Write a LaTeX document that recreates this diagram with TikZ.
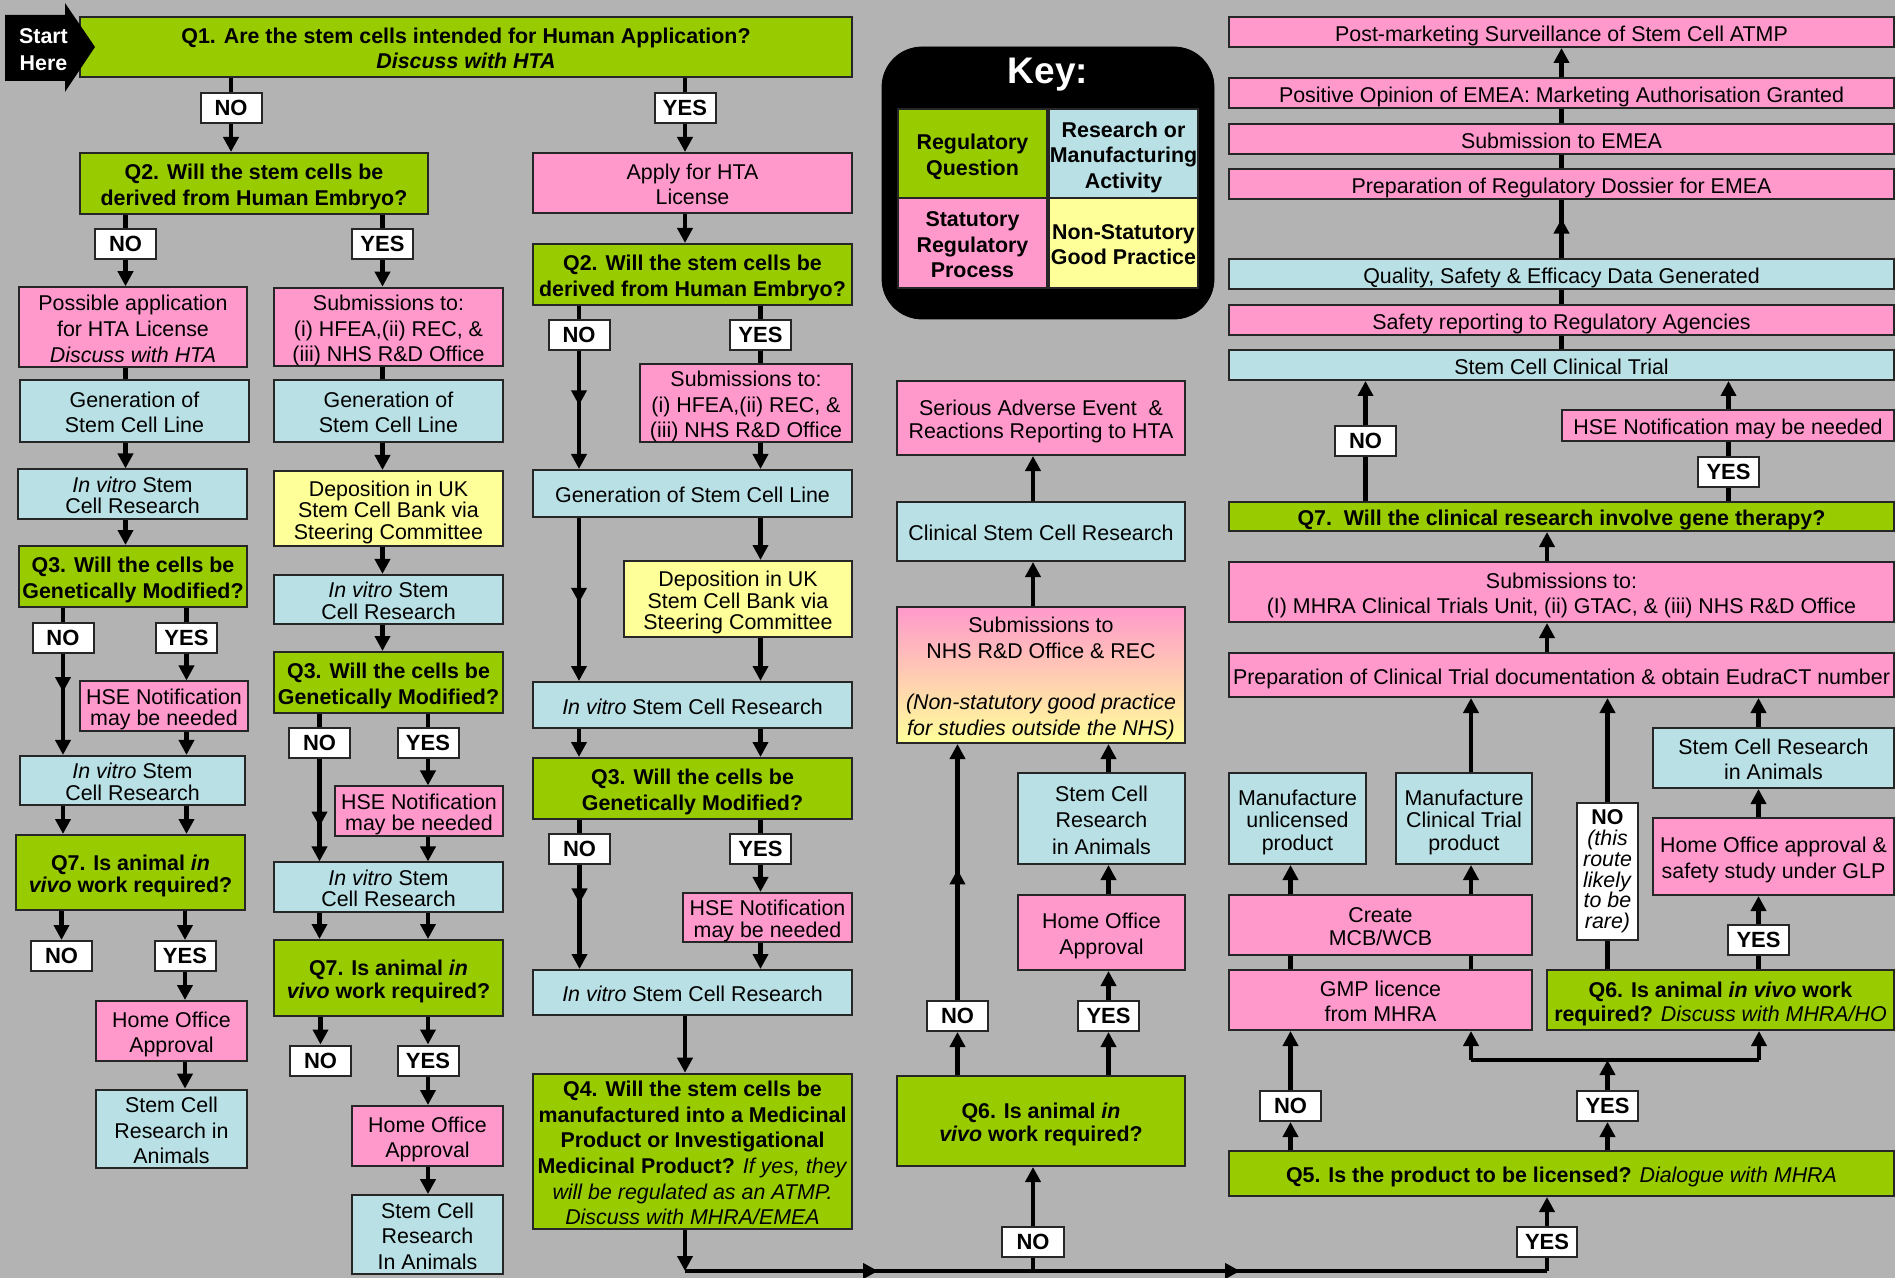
\documentclass[tikz,border=0pt]{standalone}
\usepackage{fontspec}
\setmainfont{Liberation Sans}
\usetikzlibrary{arrows.meta,decorations.markings}

\definecolor{bggray}{RGB}{179,179,179}
\definecolor{qgreen}{RGB}{153,204,0}
\definecolor{spink}{RGB}{255,153,204}
\definecolor{rblue}{RGB}{185,224,228}
\definecolor{nyellow}{RGB}{255,255,153}

\newcommand{\bxfont}{\fontsize{10.7}{12.8}\selectfont}
\newcommand{\tgfont}{\fontsize{10.7}{10.8}\selectfont}
\newcommand{\mdfont}{\fontsize{10.7}{11.2}\selectfont}
\newcommand{\bxtop}{\rule{0pt}{11.46pt}}
\newcommand{\bxbot}{\rule[-2.3pt]{0pt}{2.3pt}}
% strut for the first line of a box with several lines
\newcommand{\ts}{\rule{0pt}{11.46pt}}

\tikzset{
	>={Triangle[width=7.5pt,length=7.5pt]},
	box/.style={draw=black!85, line width=1pt, inner sep=0pt, align=center, text=black, font=\bxfont,
		execute at begin node=\bxtop, execute at end node=\bxbot},
	nostrut/.code={\def\bxtop{}\def\bxbot{}},
	sz/.style 2 args={minimum width=#1*0.5pt, minimum height=#2*0.5pt},
	qbox/.style={box, fill=qgreen, font=\bxfont\bfseries},
	pbox/.style={box, fill=spink},
	bbox/.style={box, fill=rblue},
	ybox/.style={box, fill=nyellow},
	lbl/.style={box, fill=white, font=\fontsize{11}{12}\selectfont\bfseries, sz={61}{30}, nostrut},
	ln/.style={line width=2.2pt},
	arr/.style={->, line width=2.2pt},
	midarr/.style={postaction={decorate}, decoration={markings, mark=at position #1 with {\arrow{>}}}},
}

\begin{document}
\begin{tikzpicture}[x=0.5pt, y=-0.5pt]
		\useasboundingbox (0,0) rectangle (1895,1278);
		\fill[bggray] (0,0) rectangle (1895,1278);
		
		% Q1
		\node[qbox, sz={772}{60}] (q1) at (466,47) {\ts Q1. Are the stem cells intended for Human Application?\\\textit{Discuss with HTA}};
		\node[lbl] (no1) at (231,108) {NO};
		\node[lbl] (yes1) at (685,108) {YES};
		
		% Start arrow
		\fill[black] (5,15) -- (65,15) -- (65,3) -- (95,47) -- (65,92) -- (65,81) -- (5,81) -- cycle;
		\node[text=white, align=center, inner sep=0pt, font=\fontsize{10.7}{13.5}\selectfont\bfseries] (start) at (43.5,50) {Start\\Here};
		
		% Left column (not human application)
		\node[qbox, sz={348}{61}] (q2a) at (254,183.5) {\ts Q2. Will the stem cells be\\derived from Human Embryo?};
		\node[lbl] (no2a) at (125.5,244) {NO};
		\node[lbl] (yes2a) at (382.5,244) {YES};
		\node[pbox, sz={228}{76}, font=\fontsize{10.7}{13}\selectfont] (poss) at (133,327) {\ts Possible application\\for HTA License\\\textit{Discuss with HTA}};
		\node[pbox, sz={229}{76}] (sub2) at (388.5,327) {\ts Submissions to:\\(i) HFEA,(ii) REC, \&\\(iii) NHS R\&D Office};
		\node[bbox, sz={229}{62}] (gen1) at (134.5,411) {\ts Generation of\\Stem Cell Line};
		\node[bbox, sz={229}{62}] (gen2) at (388.5,411) {\ts Generation of\\Stem Cell Line};
		\node[bbox, sz={229}{46}, font=\tgfont] (iv1a) at (132.5,494) {\ts\textit{In vitro} Stem\\Cell Research};
		\node[qbox, sz={228}{61}] (q3a) at (133,576.5) {\ts Q3. Will the cells be\\Genetically Modified?};
		\node[lbl] (no3a) at (63,637.5) {NO};
		\node[lbl] (yes3a) at (186.5,637.5) {YES};
		\node[pbox, sz={168}{46}, font=\tgfont] (hse1) at (164,706) {\ts HSE Notification\\may be needed};
		\node[bbox, sz={225}{47}, font=\tgfont] (iv1b) at (132.5,780.5) {\ts\textit{In vitro} Stem\\Cell Research};
		\node[qbox, sz={229}{75}, font=\tgfont\bfseries] (q7a) at (130.5,872.5) {\ts Q7. Is animal \textit{in}\\\textit{vivo} work required?};
		\node[lbl] (no7a) at (61.5,956) {NO};
		\node[lbl] (yes7a) at (185,956) {YES};
		\node[pbox, sz={151}{60}] (ho1) at (171.5,1031) {\ts Home Office\\Approval};
		\node[bbox, sz={151}{76}] (scra1) at (171.5,1129) {\ts Stem Cell\\Research in\\Animals};
		
		\node[ybox, sz={229}{75}, font=\tgfont] (dep2) at (388.5,508.5) {\ts Deposition in UK\\Stem Cell Bank via\\Steering Committee};
		\node[bbox, sz={229}{45}, font=\tgfont] (iv2a) at (388.5,599.5) {\ts\textit{In vitro} Stem\\Cell Research};
		\node[qbox, sz={229}{61}] (q3b) at (388.5,682.5) {\ts Q3. Will the cells be\\Genetically Modified?};
		\node[lbl] (no3b) at (319.5,743) {NO};
		\node[lbl] (yes3b) at (428,743) {YES};
		\node[pbox, sz={168}{46}, font=\tgfont] (hse2) at (419,811) {\ts HSE Notification\\may be needed};
		\node[bbox, sz={229}{46}, font=\tgfont] (iv2b) at (388.5,887) {\ts\textit{In vitro} Stem\\Cell Research};
		\node[qbox, sz={229}{76}, font=\mdfont\bfseries] (q7b) at (388.5,978) {\ts Q7. Is animal \textit{in}\\\textit{vivo} work required?};
		\node[lbl] (no7b) at (320.5,1060.5) {NO};
		\node[lbl] (yes7b) at (428,1060.5) {YES};
		\node[pbox, sz={151}{60}] (ho2) at (427.5,1136) {\ts Home Office\\Approval};
		\node[bbox, sz={151}{77}] (scra2) at (427.5,1234.5) {\ts Stem Cell\\Research\\In Animals};
		
		% Middle column (human application)
		\node[pbox, sz={319}{60}] (apply) at (692.5,183) {\ts Apply for HTA\\License};
		\node[qbox, sz={319}{61}] (q2b) at (692.5,274.5) {\ts Q2. Will the stem cells be\\derived from Human Embryo?};
		\node[lbl] (no2b) at (579,335) {NO};
		\node[lbl] (yes2b) at (760.5,335) {YES};
		\node[pbox, sz={212}{76}] (sub3) at (746,403) {\ts Submissions to:\\(i) HFEA,(ii) REC, \&\\(iii) NHS R\&D Office};
		\node[bbox, sz={319}{47}] (gen3) at (692.5,493.5) {Generation of Stem Cell Line};
		\node[ybox, sz={228}{76}, font=\tgfont] (dep3) at (738,599) {\ts Deposition in UK\\Stem Cell Bank via\\Steering Committee};
		\node[bbox, sz={319}{46}] (iv3a) at (692.5,705) {\textit{In vitro} Stem Cell Research};
		\node[qbox, sz={319}{61}] (q3c) at (692.5,788.5) {\ts Q3. Will the cells be\\Genetically Modified?};
		\node[lbl] (no3c) at (579.5,849) {NO};
		\node[lbl] (yes3c) at (760.5,849) {YES};
		\node[pbox, sz={169}{45}, font=\tgfont] (hse3) at (767.5,917.5) {\ts HSE Notification\\may be needed};
		\node[bbox, sz={319}{45}] (iv3b) at (692.5,992.5) {\textit{In vitro} Stem Cell Research};
		\node[qbox, sz={319}{151}, font=\fontsize{10.7}{12.8}\selectfont] (q4) at (692.5,1151.5) {\ts\textbf{Q4. Will the stem cells be}\\\textbf{manufactured into a Medicinal}\\\textbf{Product or Investigational}\\\textbf{Medicinal Product?} \textit{If yes, they}\\\textit{will be regulated as an ATMP.}\\\textit{Discuss with MHRA/EMEA}};
		
		% Key
		\draw[fill=black, rounded corners=20pt] (882,47) rectangle (1214,319);
		\node[text=white, inner sep=0pt, font=\fontsize{18.5}{20}\selectfont\bfseries] (keyt) at (1048,75) {Key:};
		\node[qbox, sz={149}{89}] (kq) at (972.5,153.5) {\ts Regulatory\\Question};
		\node[bbox, sz={149}{89}, font=\bxfont\bfseries] (ka) at (1123.5,153.5) {\ts Research or\\Manufacturing\\Activity};
		\node[pbox, sz={149}{90}, font=\bxfont\bfseries] (kp) at (972.5,243) {\ts Statutory\\Regulatory\\Process};
		\node[ybox, sz={149}{90}, font=\bxfont\bfseries] (kg) at (1123.5,243) {\ts Non-Statutory\\Good Practice};
		
		% Clinical research column
		\node[pbox, sz={288}{74}, font=\mdfont] (sae) at (1041,418) {\ts Serious Adverse Event \ \&\\Reactions Reporting to HTA};
		\node[bbox, sz={288}{59}] (clin) at (1041,531.5) {Clinical Stem Cell Research};
		\node[box, sz={288}{136}, top color=spink, bottom color=nyellow] (subnhs) at (1041,675) {\ts Submissions to\\NHS R\&D Office \& REC\\[12.8pt]\textit{(Non-statutory good practice}\\\textit{for studies outside the NHS)}};
		\node[bbox, sz={167}{91}, font=\fontsize{10.7}{13.3}\selectfont] (scra4) at (1101.5,818.5) {\ts Stem Cell\\Research\\in Animals};
		\node[pbox, sz={167}{75}] (ho4) at (1101.5,932.5) {\ts Home Office\\Approval};
		\node[lbl] (no6a) at (957.5,1016) {NO};
		\node[lbl] (yes6a) at (1108.5,1016) {YES};
		\node[qbox, sz={288}{90}, font=\fontsize{10.7}{11.6}\selectfont\bfseries] (q6a) at (1041,1121) {\ts Q6. Is animal \textit{in}\\\textit{vivo} work required?};
		\node[lbl, sz={62}{30}] (noB) at (1033,1242) {NO};
		
		% Licensing column
		\node[pbox, sz={665}{30}] (post) at (1561.5,32) {Post-marketing Surveillance of Stem Cell ATMP};
		\node[pbox, sz={665}{30}] (pos) at (1561.5,93) {Positive Opinion of EMEA: Marketing Authorisation Granted};
		\node[pbox, sz={665}{30}] (sube) at (1561.5,139) {Submission to EMEA};
		\node[pbox, sz={665}{30}] (dossier) at (1561.5,184) {Preparation of Regulatory Dossier for EMEA};
		\node[bbox, sz={665}{30}] (quality) at (1561.5,274) {Quality, Safety \& Efficacy Data Generated};
		\node[pbox, sz={665}{30}] (safety) at (1561.5,320) {Safety reporting to Regulatory Agencies};
		\node[bbox, sz={665}{30}] (trial) at (1561.5,365) {Stem Cell Clinical Trial};
		\node[lbl] (no7c) at (1365.5,441) {NO};
		\node[pbox, sz={332}{31}] (hse5) at (1728,425.5) {HSE Notification may be needed};
		\node[lbl] (yes7c) at (1728.5,472) {YES};
		\node[qbox, sz={665}{29}] (q7c) at (1561.5,516.5) {Q7.\ \ Will the clinical research involve gene therapy?};
		\node[pbox, sz={665}{60}] (sub5) at (1561.5,592) {\ts Submissions to:\\(I) MHRA Clinical Trials Unit, (ii) GTAC, \& (iii) NHS R\&D Office};
		\node[pbox, sz={665}{44}] (prepct) at (1561.5,675) {Preparation of Clinical Trial documentation \& obtain EudraCT number};
		\node[bbox, sz={137}{91}, font=\mdfont] (manu) at (1297.5,818.5) {\ts Manufacture\\unlicensed\\product};
		\node[bbox, sz={136}{91}, font=\mdfont] (manct) at (1464,818.5) {\ts Manufacture\\Clinical Trial\\product};
		\node[lbl, sz={61}{137}, font=\fontsize{10.7}{10.4}\selectfont] (norare) at (1607.5,871.5) {\textbf{NO}\\\textit{(this}\\\textit{route}\\\textit{likely}\\\textit{to be}\\\textit{rare)}};
		\node[bbox, sz={241}{60}] (scra5) at (1773.5,758) {\ts Stem Cell Research\\in Animals};
		\node[pbox, sz={241}{77}] (ho5) at (1773.5,856.5) {\ts Home Office approval \&\\safety study under GLP};
		\node[lbl] (yes6b) at (1758.5,940) {YES};
		\node[qbox, sz={347}{60}, font=\fontsize{10.7}{12}\selectfont] (q6b) at (1720.5,1000) {\ts\textbf{Q6. Is animal \textit{in vivo} work}\\\textbf{required?} \textit{Discuss with MHRA/HO}};
		\node[pbox, sz={303}{60}, font=\mdfont] (create) at (1380.5,925) {\ts Create\\MCB/WCB};
		\node[pbox, sz={303}{60}] (gmp) at (1380.5,1000) {\ts GMP licence\\from MHRA};
		\node[lbl] (no5) at (1290.5,1106) {NO};
		\node[lbl] (yes5) at (1607.5,1106) {YES};
		\node[qbox, sz={665}{45}, font=\bxfont] (q5) at (1561.5,1173.5) {\textbf{Q5. Is the product to be licensed?} \textit{Dialogue with MHRA}};
		\node[lbl, sz={60}{30}] (yesB) at (1547,1242) {YES};
		
		\coordinate (bl) at (685,1271);
		\coordinate (br) at (1547,1271);
		\coordinate (jl) at (1471,1060);
		\coordinate (jr) at (1759,1060);
		
		% Draw Q1 lines
		\draw[ln] (no1 |- q1.south) -- (no1.north);
		\draw[arr] (no1.south) -- (no1 |- q2a.north);
		\draw[ln] (yes1 |- q1.south) -- (yes1.north);
		\draw[arr] (yes1.south) -- (yes1 |- apply.north);
		\draw[arr] (yes1 |- apply.south) -- (yes1 |- q2b.north);
		
		% Draw left column lines
		\draw[ln] (no2a |- q2a.south) -- (no2a.north);
		\draw[arr] (no2a.south) -- (no2a |- poss.north);
		\draw[ln] (yes2a |- q2a.south) -- (yes2a.north);
		\draw[arr] (yes2a.south) -- (yes2a |- sub2.north);
		\draw[ln] (no2a |- poss.south) -- (no2a |- gen1.north);
		\draw[arr] (no2a |- gen1.south) -- (no2a |- iv1a.north);
		\draw[arr] (no2a |- iv1a.south) -- (no2a |- q3a.north);
		\draw[ln] (no3a |- q3a.south) -- (no3a.north);
		\draw[arr, midarr=0.38] (no3a.south) -- (no3a |- iv1b.north);
		\draw[ln] (yes3a |- q3a.south) -- (yes3a.north);
		\draw[arr] (yes3a.south) -- (yes3a |- hse1.north);
		\draw[arr] (yes3a |- hse1.south) -- (yes3a |- iv1b.north);
		\draw[arr] (no3a |- iv1b.south) -- (no3a |- q7a.north);
		\draw[arr] (yes3a |- iv1b.south) -- (yes3a |- q7a.north);
		\draw[arr] (no7a |- q7a.south) -- (no7a.north);
		\draw[arr] (yes7a |- q7a.south) -- (yes7a.north);
		\draw[arr] (yes7a.south) -- (yes7a |- ho1.north);
		\draw[arr] (yes7a |- ho1.south) -- (yes7a |- scra1.north);
		
		\draw[ln] (yes2a |- sub2.south) -- (yes2a |- gen2.north);
		\draw[arr] (yes2a |- gen2.south) -- (yes2a |- dep2.north);
		\draw[arr] (yes2a |- dep2.south) -- (yes2a |- iv2a.north);
		\draw[arr] (yes2a |- iv2a.south) -- (yes2a |- q3b.north);
		\draw[ln] (no3b |- q3b.south) -- (no3b.north);
		\draw[arr, midarr=0.66] (no3b.south) -- (no3b |- iv2b.north);
		\draw[ln] (yes3b |- q3b.south) -- (yes3b.north);
		\draw[arr] (yes3b.south) -- (yes3b |- hse2.north);
		\draw[arr] (yes3b |- hse2.south) -- (yes3b |- iv2b.north);
		\draw[arr] (no3b |- iv2b.south) -- (no3b |- q7b.north);
		\draw[arr] (yes3b |- iv2b.south) -- (yes3b |- q7b.north);
		\draw[arr] (no7b |- q7b.south) -- (no7b.north);
		\draw[arr] (yes7b |- q7b.south) -- (yes7b.north);
		\draw[arr] (yes7b.south) -- (yes7b |- ho2.north);
		\draw[arr] (yes7b |- ho2.south) -- (yes7b |- scra2.north);
		
		% Draw middle column lines
		\draw[ln] (no2b |- q2b.south) -- (no2b.north);
		\draw[arr, midarr=0.46] (no2b.south) -- (no2b |- gen3.north);
		\draw[ln] (yes2b |- q2b.south) -- (yes2b.north);
		\draw[ln] (yes2b.south) -- (yes2b |- sub3.north);
		\draw[arr] (yes2b |- sub3.south) -- (yes2b |- gen3.north);
		\draw[arr, midarr=0.52] (no2b |- gen3.south) -- (no2b |- iv3a.north);
		\draw[arr] (yes2b |- gen3.south) -- (yes2b |- dep3.north);
		\draw[arr] (yes2b |- dep3.south) -- (yes2b |- iv3a.north);
		\draw[arr] (no2b |- iv3a.south) -- (no2b |- q3c.north);
		\draw[arr] (yes2b |- iv3a.south) -- (yes2b |- q3c.north);
		\draw[ln] (no3c |- q3c.south) -- (no3c.north);
		\draw[arr, midarr=0.37] (no3c.south) -- (no3c |- iv3b.north);
		\draw[ln] (yes3c |- q3c.south) -- (yes3c.north);
		\draw[arr] (yes3c.south) -- (yes3c |- hse3.north);
		\draw[arr] (yes3c |- hse3.south) -- (yes3c |- iv3b.north);
		\draw[arr] (bl |- iv3b.south) -- (bl |- q4.north);
		\draw[arr] (bl |- q4.south) -- (bl);
		
		% Draw bottom line
		\draw[ln, postaction={decorate}, decoration={markings, mark=at position 0.224 with {\arrow{>}}, mark=at position 0.644 with {\arrow{>}}}] (bl) -- (br);
		
		% Draw clinical research lines
		\draw[ln] (noB |- bl) -- (noB.south);
		\draw[arr] (noB.north) -- (noB |- q6a.south);
		\draw[arr] (no6a |- q6a.north) -- (no6a.south);
		\draw[arr] (yes6a |- q6a.north) -- (yes6a.south);
		\draw[arr, midarr=0.51] (no6a.north) -- (no6a |- subnhs.south);
		\draw[arr] (yes6a.north) -- (yes6a |- ho4.south);
		\draw[arr] (yes6a |- ho4.north) -- (yes6a |- scra4.south);
		\draw[arr] (yes6a |- scra4.north) -- (yes6a |- subnhs.south);
		\draw[arr] (noB |- subnhs.north) -- (noB |- clin.south);
		\draw[arr] (noB |- clin.north) -- (noB |- sae.south);
		
		% Draw licensing lines
		\draw[ln] (yesB |- br) -- (yesB.south);
		\draw[arr] (yesB.north) -- (yesB |- q5.south);
		\draw[arr] (no5 |- q5.north) -- (no5.south);
		\draw[arr] (yes5 |- q5.north) -- (yes5.south);
		\draw[arr] (no5.north) -- (no5 |- gmp.south);
		\draw[arr] (yes5.north) -- (yes5 |- jl);
		\draw[ln] (jl) -- (jr);
		\draw[arr] (jl) -- (jl |- gmp.south);
		\draw[arr] (jr) -- (jr |- q6b.south);
		\draw[ln] (no5 |- gmp.north) -- (no5 |- create.south);
		\draw[ln] (jl |- gmp.north) -- (jl |- create.south);
		\draw[arr] (no5 |- create.north) -- (no5 |- manu.south);
		\draw[arr] (jl |- create.north) -- (jl |- manct.south);
		\draw[arr] (jl |- manct.north) -- (jl |- prepct.south);
		\draw[ln] (yes6b |- q6b.north) -- (yes6b.south);
		\draw[arr] (yes6b.north) -- (yes6b |- ho5.south);
		\draw[arr] (yes6b |- ho5.north) -- (yes6b |- scra5.south);
		\draw[arr] (yes6b |- scra5.north) -- (yes6b |- prepct.south);
		\draw[ln] (norare |- q6b.north) -- (norare.south);
		\draw[arr] (norare.north) -- (norare |- prepct.south);
		\draw[arr] (yesB |- prepct.north) -- (yesB |- sub5.south);
		\draw[arr] (yesB |- sub5.north) -- (yesB |- q7c.south);
		\draw[ln] (no7c |- q7c.north) -- (no7c.south);
		\draw[arr] (no7c.north) -- (no7c |- trial.south);
		\draw[ln] (yes7c |- q7c.north) -- (yes7c.south);
		\draw[ln] (yes7c.north) -- (yes7c |- hse5.south);
		\draw[arr] (yes7c |- hse5.north) -- (yes7c |- trial.south);
		\draw[ln] (trial.north) -- (safety.south);
		\draw[ln] (safety.north) -- (quality.south);
		\draw[ln, midarr=0.68] (quality.north) -- (dossier.south);
		\draw[ln] (dossier.north) -- (sube.south);
		\draw[ln] (sube.north) -- (pos.south);
		\draw[arr] (pos.north) -- (post.south);
		
\end{tikzpicture}
\end{document}
